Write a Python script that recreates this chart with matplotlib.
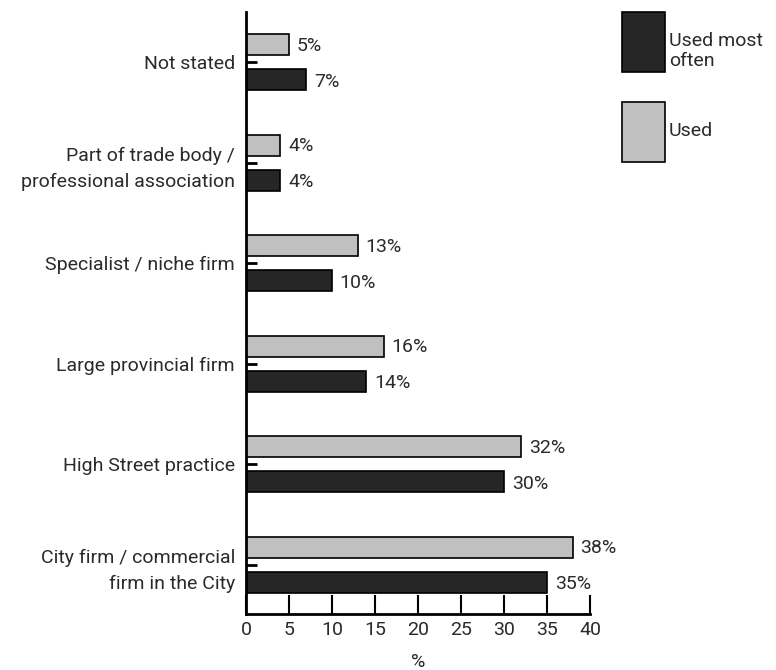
import matplotlib.pyplot as plt
from matplotlib.patches import Rectangle
import numpy as np

plt.rcParams['font.family'] = ['Roboto', 'DejaVu Sans']

# bottom to top
categories = ["City firm / commercial\nfirm in the City", "High Street practice",
              "Large provincial firm", "Specialist / niche firm",
              "Part of trade body /\nprofessional association", "Not stated"]
used = [38, 32, 16, 13, 4, 5]
used_most = [35, 30, 14, 10, 4, 7]

dark = "#262626"
light = "#c0c0c0"
txt = "#2a2a2a"
fs = 14

fig = plt.figure(figsize=(7.76, 6.7), dpi=100)
ax = fig.add_axes([0.317, 0.0836, 0.4433, 0.8985])

y = np.arange(len(categories))
h = 0.21
off = 0.175
ax.barh(y + off, used, height=h, color=light, edgecolor="black", linewidth=1.2)
ax.barh(y - off, used_most, height=h, color=dark, edgecolor="black", linewidth=1.2)

for yi, v in zip(y, used):
    ax.text(v + 0.9, yi + off - 0.01, f"{v}%", va="center", ha="left", fontsize=fs, color=txt)
for yi, v in zip(y, used_most):
    ax.text(v + 0.9, yi - off - 0.02, f"{v}%", va="center", ha="left", fontsize=fs, color=txt)

ax.set_xlim(0, 40)
ax.set_ylim(-0.49, 5.5)
ax.set_xticks(range(0, 45, 5))
ax.set_yticks(y)
ax.set_yticklabels(categories, fontsize=fs, color=txt, ha="right", linespacing=1.6)
ax.tick_params(axis="x", direction="in", length=14, width=1.5, labelsize=fs,
               labelcolor=txt, pad=5)
ax.tick_params(axis="y", direction="in", length=8, width=2, pad=8)
ax.set_xlabel("%", fontsize=fs, color=txt, labelpad=10)

for side in ["top", "right"]:
    ax.spines[side].set_visible(False)
ax.spines["left"].set_linewidth(2)
ax.spines["bottom"].set_linewidth(2)

# legend boxes
W, H = 776, 670
def box(x0, y0, x1, y1, color):
    fig.patches.append(Rectangle((x0 / W, 1 - y1 / H), (x1 - x0) / W, (y1 - y0) / H,
                                 transform=fig.transFigure, facecolor=color,
                                 edgecolor="black", linewidth=1.2))
box(622, 12, 665, 72, dark)
box(622, 102, 665, 162, light)
fig.text(669 / W, 1 - 51 / H, "Used most\noften", fontsize=fs, color=txt,
         va="center", ha="left", linespacing=1.1)
fig.text(669 / W, 1 - 131 / H, "Used", fontsize=fs, color=txt,
         va="center", ha="left")

fig.savefig("out.png", dpi=100)
